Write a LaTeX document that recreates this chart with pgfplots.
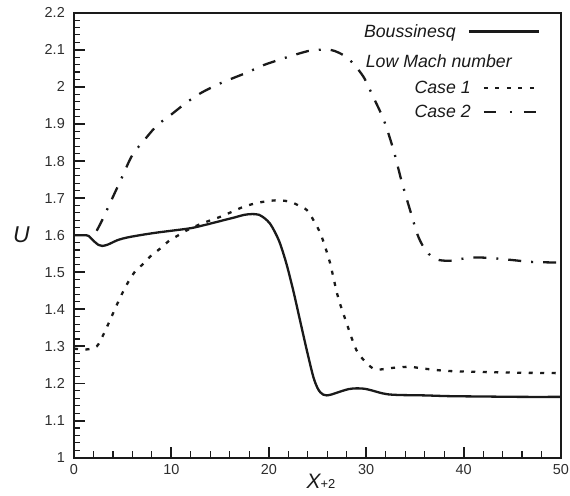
\documentclass[border=0pt]{standalone}
\usepackage{fontspec}
\setmainfont{Liberation Sans}
\usepackage{pgfplots}
\pgfplotsset{compat=1.18}
\usetikzlibrary{calc}
\definecolor{ink}{HTML}{1A1A1A}
\definecolor{lab}{HTML}{2E2E2E}
\pgfplotsset{
  boussleg/.style={legend image code/.code={\draw[##1] (0bp,5.5bp) -- (55bp,5.5bp); \draw[##1,overlay] (-15bp,5.5bp) -- (0bp,5.5bp);}},
  casetwoleg/.style={legend image code/.code={\draw[##1, dash pattern=on 12bp off 14bp on 2bp off 12bp] (0bp,5.5bp) -- (53bp,5.5bp);}},
}

\begin{document}
\begin{tikzpicture}
\begin{axis}[name=ax, scale only axis, width=487bp, height=445bp,
  xmin=0, xmax=50, ymin=1, ymax=2.2,
  xtick={0,10,20,30,40,50},
  ytick={1,1.1,1.2,1.3,1.4,1.5,1.6,1.7,1.8,1.9,2,2.1,2.2},
  minor x tick num=4, minor y tick num=4,
  tick align=inside, tick pos=left,
  major tick length=11bp, minor tick length=6.5bp,
  major tick style={line width=1.9bp, ink},
  minor tick style={line width=1.1bp, ink},
  axis line style={line width=2.2bp, ink},
  /pgf/number format/assume math mode=true,
  ticklabel style={font=\fontsize{14.5}{14.5}\selectfont, text=lab, inner sep=0pt},
  xticklabel style={yshift=-7bp},
  yticklabel style={xshift=-9bp},
  xlabel={{\fontsize{21}{21}\selectfont\itshape X}{\fontsize{13}{13}\selectfont +2}},
  every axis x label/.style={at={(axis description cs:0.5,0)}, anchor=base, yshift=-30.3bp, xshift=3.5bp, inner sep=0pt, text=ink},
  ylabel={\fontsize{23}{23}\selectfont\itshape U},
  every axis y label/.style={at={(axis description cs:0,0.5)}, anchor=center, xshift=-52.5bp, inner sep=0pt, text=ink},
  legend cell align=right, legend plot pos=right,
  legend style={draw=none, fill=none, at={(rel axis cs:0.9569,0.974)}, anchor=north east,
    inner sep=0pt, outer sep=0pt, column sep=12bp, row sep=0pt,
    font=\fontsize{17.8}{17.8}\selectfont\itshape, nodes={inner sep=0pt, text depth=0pt, text=ink},
    cells={anchor=base east}},
  legend image code/.code={\draw[#1] (0bp,5.5bp) -- (55bp,5.5bp);},
]
\addplot[ink, line width=2.3bp, smooth, boussleg]
coordinates {
(0,1.600) (1.0,1.600) (1.5,1.598) (2.0,1.585) (2.5,1.574) (2.9,1.571) (3.5,1.575)
(4.5,1.587) (5.5,1.594) (7,1.601) (8.5,1.607) (10,1.612) (12,1.619) (13.5,1.628)
(15,1.638) (16.5,1.648) (17.5,1.655) (18.3,1.657) (19,1.655) (19.6,1.645) (20.1,1.632)
(20.6,1.610) (21.15,1.578) (21.8,1.524) (22.5,1.452) (23.2,1.371) (23.9,1.290)
(24.57,1.218) (25.0,1.188) (25.3,1.176) (25.6,1.170) (25.95,1.168) (26.5,1.171)
(27.3,1.178) (28.2,1.185) (29.0,1.187) (29.8,1.186) (30.5,1.182) (31.3,1.176)
(32.2,1.171) (33.5,1.169) (36,1.168) (38.5,1.166) (42,1.165) (46,1.164) (50,1.164)
};
\addlegendentry{\rule{0pt}{12.5bp}Boussinesq\hspace*{15bp}}
\addlegendimage{empty legend}
\addlegendentry{\rule{0pt}{30.5bp}Low Mach number\hspace*{-41bp}}
\addplot[ink, line width=2.3bp, smooth, dash pattern=on 4bp off 7.5bp]
coordinates {
(0,1.294) (1.3,1.292) (2.33,1.300) (3.0,1.331) (3.7,1.371) (4.55,1.421) (5.4,1.466)
(6.26,1.502) (7.0,1.520) (7.8,1.542) (8.9,1.565) (9.86,1.587) (10.6,1.598) (11.5,1.612)
(12.8,1.628) (14,1.640) (15.06,1.650) (16.3,1.664) (17.45,1.677) (18.8,1.687)
(20.2,1.693) (21.2,1.694) (22.2,1.690) (23.0,1.681) (23.9,1.668) (24.6,1.640)
(25.3,1.605) (25.8,1.567) (26.3,1.524) (27.1,1.434) (28.0,1.362) (29.0,1.290)
(30.05,1.255) (30.9,1.238) (31.8,1.239) (33,1.243) (34.5,1.245) (36,1.240)
(38.3,1.234) (42,1.231) (46,1.229) (50,1.228)
};
\addlegendentry{\rule{0pt}{26bp}Case 1}
\addplot[ink, line width=2.3bp, smooth, dash pattern=on 13bp off 10bp on 2bp off 10bp, casetwoleg]
coordinates {
(2.33,1.612) (2.9,1.641) (3.94,1.700) (4.96,1.758) (5.99,1.816) (7.36,1.861)
(8.56,1.897) (9.92,1.924) (11.46,1.956) (13.0,1.983) (15.06,2.010) (17.8,2.039)
(19.5,2.059) (22.0,2.081) (24.1,2.097) (25.3,2.100) (26.3,2.100) (27.2,2.092)
(28.3,2.073) (29.7,2.028) (30.7,1.974) (31.8,1.911) (32.8,1.830) (33.6,1.749)
(34.5,1.668) (35.35,1.596) (36.2,1.556) (37.2,1.535) (38.6,1.531) (40,1.537)
(41.3,1.540) (43,1.538) (45,1.533) (47,1.528) (50,1.526)
};
\addlegendentry{\rule{0pt}{23.6bp}Case 2}
\end{axis}
\pgfresetboundingbox
\path[use as bounding box] ($(ax.south west)+(-74bp,-38.3bp)$) rectangle ($(ax.north east)+(9bp,12.7bp)$);
\end{tikzpicture}
\end{document}
